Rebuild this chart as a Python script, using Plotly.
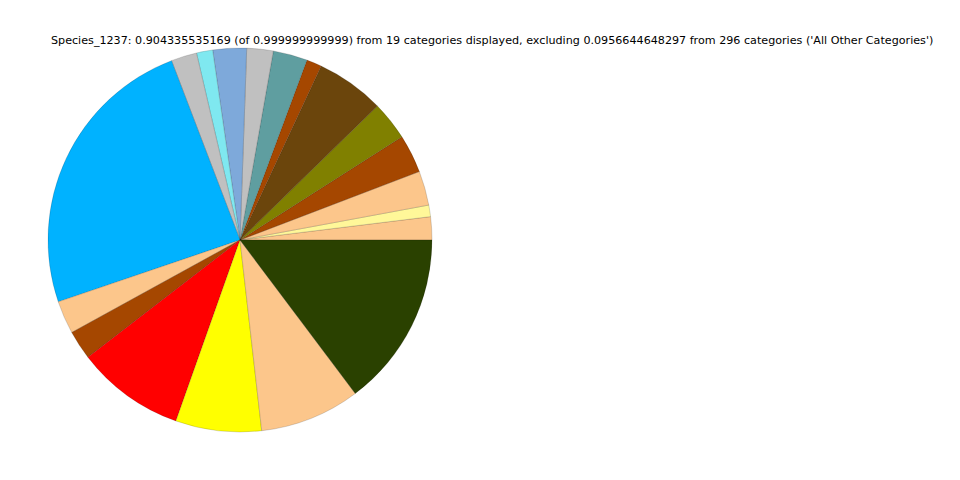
import plotly.graph_objects as go

categories = [f"Cat_{i+1}" for i in range(19)]
values = [0.01758, 0.00879, 0.02613, 0.02914, 0.02964, 0.05200, 0.01156,
          0.02613, 0.02010, 0.02562, 0.01231, 0.01959, 0.22081, 0.02512,
          0.02211, 0.08265, 0.06531, 0.07637, 0.13339]
colors = ["#FCC68B", "#FFF799", "#FCC68B", "#A54700", "#808000", "#6B450C",
          "#A54700", "#5F9EA0", "#C0C0C0", "#7EA9DA", "#7FE8F0", "#C0C0C0",
          "#00B2FF", "#FCC68B", "#A54700", "#FF0000", "#FFFF00", "#FCC68B",
          "#2A4100"]
title = ("Species_1237: 0.904335535169 (of 0.999999999999) from 19 categories displayed, "
         "excluding 0.0956644648297 from 296 categories ('All Other Categories')")

# plotly counterclockwise pies place the first slice's end at `rotation`;
# shift so the first slice starts at 3 o'clock like matplotlib startangle=0
rotation = 90 - values[0] / sum(values) * 360

fig = go.Figure(go.Pie(
    labels=categories, values=values, sort=False, direction="counterclockwise",
    rotation=rotation, textinfo="none", showlegend=False,
    marker=dict(colors=colors, line=dict(color="rgba(0,0,0,0.3)", width=0.5)),
    domain=dict(x=[0.05, 0.45], y=[0.1, 0.9]),
))
fig.add_annotation(text=title, x=492/960, y=1-40/480, xref="paper", yref="paper",
                   xanchor="center", yanchor="middle", showarrow=False,
                   font=dict(family="DejaVu Sans", size=11.15, color="black"))
fig.update_layout(width=960, height=480, margin=dict(l=0, r=0, t=0, b=0),
                  paper_bgcolor="white", plot_bgcolor="white")
fig.write_html("out.html", config={"displayModeBar": False},
               post_script="document.body.style.margin='0';")
